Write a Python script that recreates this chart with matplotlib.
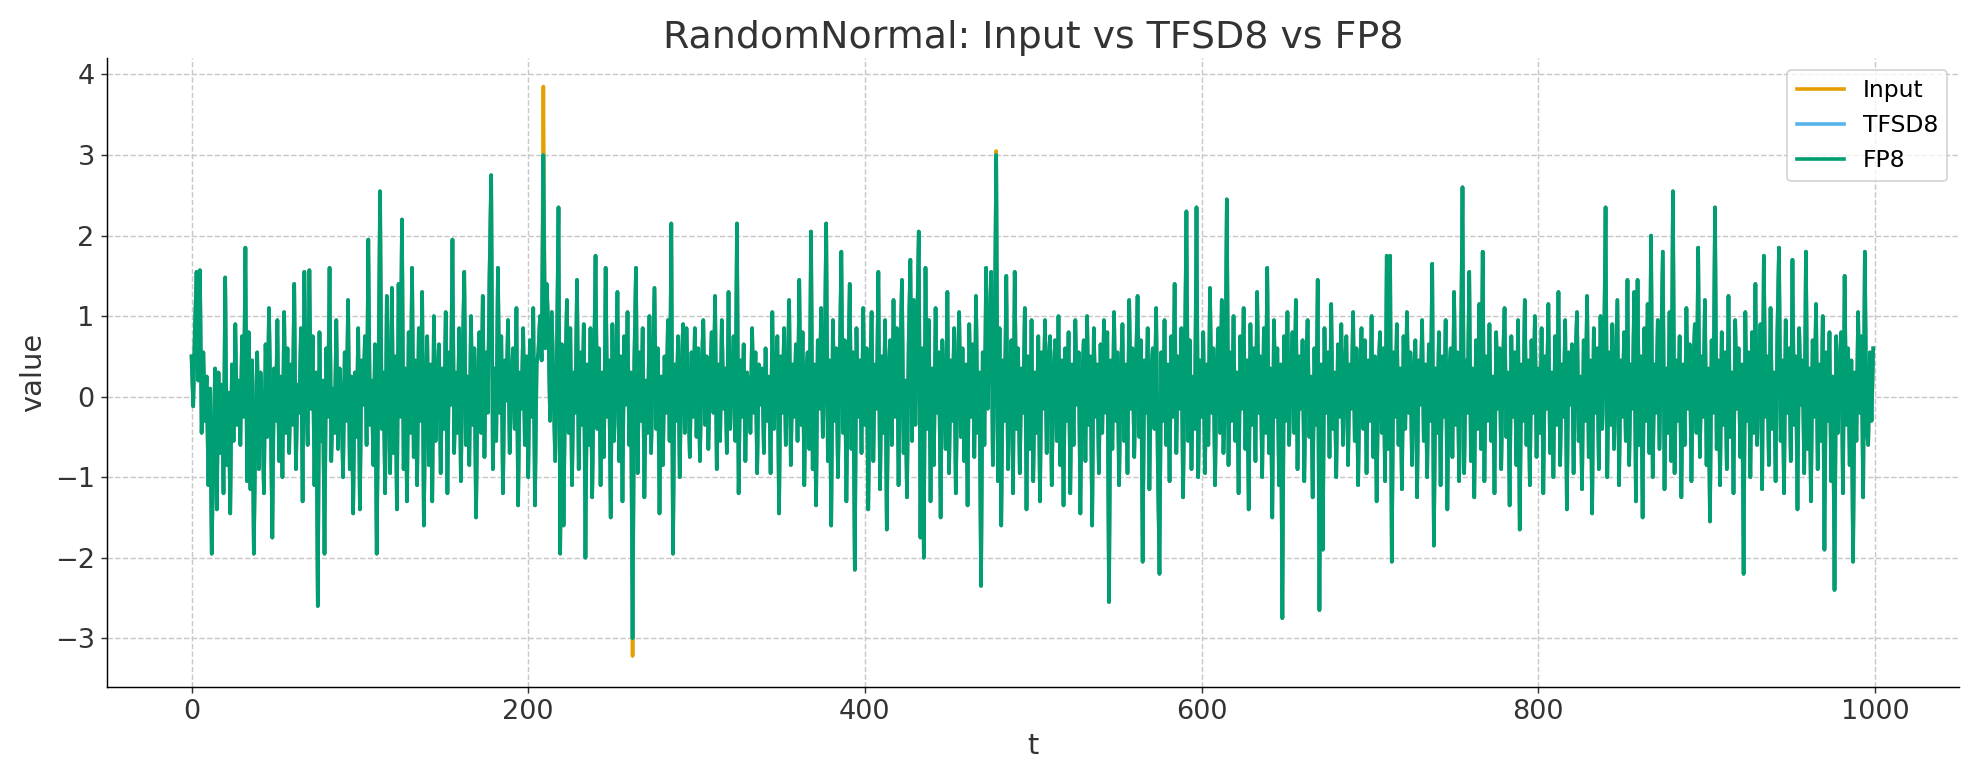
import matplotlib
matplotlib.use("Agg")
import matplotlib.pyplot as plt

# input signal (t = 0..999)
input_vals = [
    0.50,-0.12,0.85,1.55,0.20,1.57,-0.45,0.55,-0.30,0.25,-1.10,0.10,-1.95,-0.60,0.35,-1.40,0.30,-0.70,0.15,-1.20,
    1.48,-0.85,0.05,-1.45,0.40,-0.55,0.90,-0.35,0.20,-0.60,0.75,-0.25,1.85,-1.05,0.80,-1.15,0.45,-1.95,-0.40,0.55,
    -0.90,0.30,-0.15,-1.20,0.65,-0.50,1.10,-0.20,-1.75,0.35,-0.30,0.95,-0.80,0.25,-1.00,1.05,-0.45,0.60,-0.70,0.40,
    -0.35,1.40,-0.90,0.15,-0.20,0.85,-1.30,1.55,0.05,-0.60,1.57,-0.15,0.75,-1.10,0.30,-2.60,0.80,-0.55,0.20,-1.95,
    0.60,-0.25,1.60,-0.80,0.10,-0.45,0.95,-0.65,0.35,0.00,-1.00,0.55,-0.30,1.20,-0.90,0.25,-1.45,0.30,-0.50,0.85,
    -1.40,0.45,-0.10,0.75,-0.60,1.95,-0.35,0.20,-0.85,0.65,-1.95,0.15,2.55,-0.40,0.30,-1.20,1.25,0.05,-0.95,1.35,
    -0.70,0.50,-1.40,1.40,-0.25,2.20,-0.90,0.35,-1.30,0.80,-0.45,1.60,-0.75,0.45,-1.10,0.85,-0.30,1.30,-1.60,0.10,
    0.75,-0.85,0.40,-1.30,1.00,-0.55,0.20,0.65,-0.95,0.35,-0.40,1.05,-1.20,0.55,-0.10,1.95,-0.70,0.30,-0.45,0.85,
    -1.05,0.40,1.55,-0.60,0.25,-0.85,1.00,-0.35,0.60,-1.50,0.15,0.80,-0.45,1.25,-0.75,0.55,-0.20,1.50,2.75,-0.90,
    0.35,-0.55,1.60,-0.20,0.75,-1.20,0.45,-0.05,0.95,-0.70,0.20,0.60,-0.40,1.10,-1.35,0.30,-0.15,0.85,-0.60,0.50,
    -1.00,0.70,-0.25,1.10,-1.35,0.40,0.55,1.00,0.45,3.85,0.60,1.40,0.80,-0.30,1.05,0.15,-0.80,0.50,2.35,-1.95,
    0.65,-1.60,0.25,1.20,-0.45,0.85,-1.10,0.30,-0.20,1.45,-0.90,0.55,-0.35,0.90,-2.00,0.40,-0.60,0.85,-1.25,0.20,
    1.75,-0.40,0.60,-1.10,0.30,-0.75,1.60,-0.25,0.45,-1.50,0.90,-0.55,0.15,1.30,-0.80,0.50,-1.30,0.75,-0.10,1.05,
    -0.60,0.30,-3.22,0.40,1.60,-0.95,0.55,-0.30,0.85,-1.25,0.20,-0.45,1.00,-0.70,0.35,1.35,-0.40,0.60,-1.45,0.25,
    -0.85,0.50,-0.20,0.95,-0.55,2.15,-1.95,0.40,-0.30,0.75,-1.00,0.30,0.90,-0.45,0.85,0.10,-0.75,0.55,-0.25,0.85,
    -0.50,0.60,-0.80,0.30,0.95,-0.35,0.50,-0.65,0.25,0.80,-0.20,1.25,-0.90,0.40,-0.55,0.95,-0.15,0.35,-0.70,1.30,
    -0.40,0.20,0.75,-0.55,2.15,-1.20,0.45,-0.25,0.65,-0.80,0.30,0.10,-0.45,0.85,-0.20,0.55,-0.95,0.40,-0.10,0.35,
    -0.70,0.60,-0.30,0.25,-0.95,1.05,-0.40,0.30,0.75,-1.45,0.50,-0.20,0.85,-0.60,0.15,1.20,-0.85,0.40,-0.25,0.65,
    -0.55,1.45,-0.35,0.80,-1.10,0.30,0.55,-0.65,2.05,-0.90,0.40,-1.35,0.70,-0.15,1.10,-0.50,0.25,2.15,-0.80,0.45,
    -1.60,0.95,-0.30,0.60,-1.00,0.35,1.80,-0.45,0.70,-1.30,0.20,1.40,-0.65,0.55,-2.15,0.85,-0.25,0.45,-0.70,1.10,
    -0.35,0.60,-1.40,0.25,1.05,-0.80,0.40,-0.15,1.55,-1.15,0.50,-0.45,0.95,-1.65,0.30,0.70,-0.60,1.20,-0.25,0.85,
    -1.10,0.40,1.45,-0.70,0.20,-1.25,0.65,1.70,-0.55,1.20,-0.35,0.80,2.05,-1.75,0.60,-2.00,1.60,-0.40,0.95,-1.30,
    0.35,-0.85,1.10,-0.20,0.55,-1.50,0.70,0.15,-0.65,1.30,-0.95,0.45,-0.30,0.85,-1.20,0.25,1.05,-0.50,0.60,-0.80,
    0.40,-1.35,0.90,-0.25,0.65,-0.75,1.25,-0.45,0.30,-2.35,0.55,-0.60,1.60,-0.15,0.75,1.55,-0.85,0.45,3.05,-1.05,
    0.85,-1.60,0.45,-0.30,1.50,-0.90,0.25,0.70,-1.20,1.55,-0.40,0.60,-0.95,0.35,-0.20,1.10,-1.40,0.50,-0.65,0.95,
    -1.05,0.30,-0.45,0.75,-1.30,0.55,-0.15,0.95,-0.70,0.40,0.75,-1.10,0.25,0.70,-0.55,1.00,-0.85,0.45,-1.35,0.60,
    -0.30,0.80,-1.20,0.40,-0.60,0.95,-0.10,0.55,-1.45,0.20,0.70,-0.80,1.00,-0.35,0.50,-1.60,0.85,-0.25,0.40,-0.95,
    0.65,-0.45,0.95,-0.20,0.80,-2.55,0.45,-0.65,1.05,-0.30,0.55,-1.10,0.25,0.90,-0.55,0.40,-0.95,1.20,-0.15,0.60,
    -0.75,0.35,1.25,-0.50,0.70,-2.05,0.45,-0.20,0.85,-1.15,0.30,0.60,-0.40,1.10,-0.85,-2.20,0.55,-0.30,0.95,-0.60,
    0.40,-1.05,0.75,-0.25,1.40,-0.70,0.50,-0.15,0.85,-1.25,0.35,2.30,-0.55,0.70,-0.90,0.25,-0.40,2.35,-1.00,0.45,
    -0.25,0.80,-0.95,0.40,-0.60,1.35,-0.20,0.60,-1.10,0.35,0.85,-0.45,1.20,-0.70,-0.05,2.45,-0.85,0.55,-0.30,1.00,
    -0.55,0.30,-1.20,0.75,-0.15,1.10,-0.65,0.45,-1.40,0.90,-0.35,0.60,-0.80,1.30,-0.20,0.50,-1.00,0.85,-0.45,1.60,
    -0.70,0.35,-1.50,0.95,-0.25,0.60,-1.10,0.40,-2.75,0.75,-0.30,1.05,-0.60,0.25,0.80,-0.45,1.20,-0.90,0.50,-0.15,
    0.70,-1.05,0.35,0.95,-0.50,0.25,-1.25,0.60,-0.35,1.45,-2.65,0.40,-1.90,0.85,-0.20,0.55,-0.75,1.15,-0.40,0.30,
    -1.00,0.65,-0.25,0.90,-0.60,0.35,0.75,-0.85,0.40,-0.15,1.05,-0.55,0.60,-1.10,0.30,0.85,-0.40,0.70,-0.95,0.45,
    -0.30,1.00,-0.75,0.50,-1.30,0.25,0.80,-0.45,0.60,-1.05,1.75,-0.65,1.75,-2.05,0.55,-0.25,0.90,-0.60,0.35,-1.15,
    0.75,-0.40,1.05,-0.20,0.55,-0.85,0.30,0.70,-1.25,0.45,-0.10,0.95,-0.55,0.40,-1.00,0.65,-0.30,1.65,-1.85,0.35,
    -0.45,0.80,-1.10,0.50,-0.25,0.95,-1.40,0.30,0.60,-0.75,1.30,-0.35,0.55,-1.05,0.40,2.60,-0.95,0.45,-0.20,1.55,
    -0.80,0.35,-1.25,0.70,-0.40,1.15,-0.65,1.80,-1.05,0.50,-0.30,0.90,-0.55,0.25,-1.20,0.80,-0.15,0.60,-0.90,0.40,
    1.10,-0.50,0.30,-1.35,0.75,-0.25,0.55,-0.85,0.95,-1.65,0.40,-0.30,1.20,-0.60,0.45,-1.10,0.70,-0.20,1.00,-0.75,
    0.35,-0.45,0.85,-1.20,0.50,-0.15,1.15,-0.70,0.30,-1.00,0.75,-0.35,1.30,-0.85,0.40,-0.25,0.95,-1.40,0.55,-0.10,
    0.65,-0.95,0.40,1.05,-0.55,0.25,-1.15,0.70,-0.30,1.25,-0.75,0.45,-1.45,0.85,-0.20,0.60,-0.90,1.00,-0.40,0.35,
    2.35,-1.00,0.55,-0.35,0.90,-0.65,0.30,1.20,-1.10,0.45,-0.25,0.80,-0.55,1.45,-0.85,0.40,-0.15,1.30,-1.30,1.45,
    -0.60,0.50,-1.50,0.85,-0.30,1.15,-0.70,2.00,-1.00,0.40,-0.20,0.95,-0.65,0.55,1.80,-1.15,0.35,-0.45,1.05,-0.80,
    2.55,-0.95,0.45,-0.30,0.75,-1.25,0.40,-0.60,1.10,-0.15,0.65,-1.05,0.30,0.90,-0.45,1.85,-0.75,0.50,-0.25,1.20,
    -0.85,0.35,-1.55,0.70,-0.20,2.35,-0.65,0.45,-1.10,0.80,-0.35,0.55,-0.90,1.25,-0.50,0.30,-1.20,0.95,-0.15,0.60,
    -0.75,0.40,-2.20,1.05,-0.30,0.55,-1.00,0.80,-0.45,1.40,-0.60,0.35,0.90,-1.15,1.75,-0.25,0.50,-0.85,1.10,-0.40,
    0.30,-1.05,0.75,1.85,-0.55,0.45,-1.20,0.95,-0.20,0.60,-0.80,1.70,-0.35,0.50,-1.40,0.85,-0.10,0.45,-0.95,1.80,
    -0.65,0.35,-1.30,0.70,-0.25,1.15,-0.90,0.40,-0.55,1.00,-1.90,0.55,-0.30,0.80,-1.05,0.25,-2.40,0.75,-0.45,0.35,
    0.80,-1.20,1.50,-0.35,0.60,-0.85,0.45,-2.05,0.30,-0.55,1.05,-0.20,0.75,-1.25,1.80,-0.40,-0.60,0.55,-0.30,0.60,
]
t = list(range(len(input_vals)))

# quantised outputs: same as input except where the peaks are clipped at +/-3
clipped = {209: 3.0, 262: -3.0, 478: 3.0}
tfsd8_vals = [clipped.get(i, v) for i, v in enumerate(input_vals)]
fp8_vals = [clipped.get(i, v) for i, v in enumerate(input_vals)]

plt.rcParams["font.family"] = "DejaVu Sans"
fig, ax = plt.subplots(figsize=(15.22, 6.0), dpi=130)
ax.plot(t, input_vals, color="#E69F00", lw=2.0, label="Input")
ax.plot(t, tfsd8_vals, color="#56B4E9", lw=2.0, label="TFSD8")
ax.plot(t, fp8_vals, color="#009E73", lw=2.0, label="FP8")

ax.set_title("RandomNormal: Input vs TFSD8 vs FP8", fontsize=21, color="#333333")
ax.set_xlabel("t", fontsize=16, color="#333333")
ax.set_ylabel("value", fontsize=16, color="#333333")
ax.set_xticks([0, 200, 400, 600, 800, 1000])
ax.set_yticks([-3, -2, -1, 0, 1, 2, 3, 4])
ax.set_yticklabels(["\u22123", "\u22122", "\u22121", "0", "1", "2", "3", "4"])
ax.tick_params(labelsize=15, colors="#333333")
ax.set_xlim(-50, 1050)
ax.set_ylim(-3.6, 4.2)
ax.grid(True, ls="--", color="#c8c8c8", lw=0.8)
ax.spines["top"].set_visible(False)
ax.spines["right"].set_visible(False)
ax.legend(loc="upper right", fontsize=13)
fig.tight_layout()
fig.savefig("out.png", dpi=130)
